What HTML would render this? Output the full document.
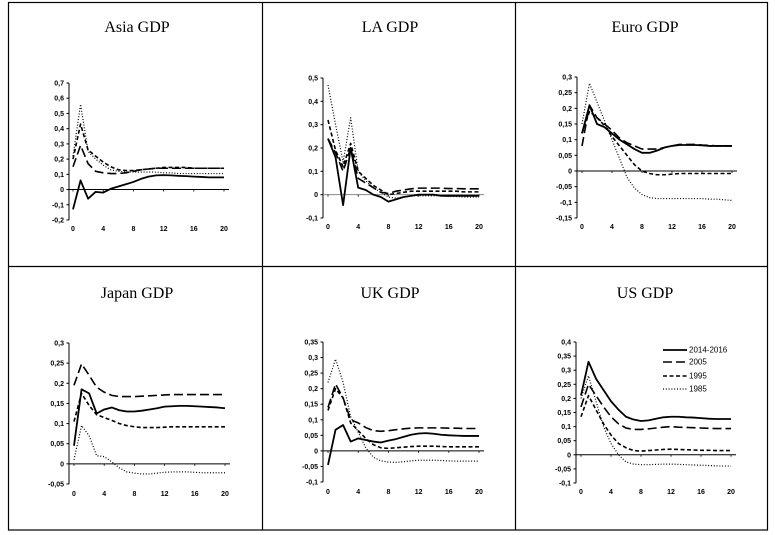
<!DOCTYPE html>
<html><head><meta charset="utf-8">
<style>
html,body{margin:0;padding:0;background:#fff;}
svg{display:block;}
.t{font-family:"Liberation Serif",serif;font-size:16px;fill:#000;}
.tk{font-family:"Liberation Sans",sans-serif;font-size:7px;font-weight:bold;fill:#000;}
.lg{font-family:"Liberation Sans",sans-serif;font-size:8px;fill:#000;}
</style></head>
<body>
<svg id="chart" width="775" height="535" viewBox="0 0 775 535"></svg>
<script>
const xs = [0,1,2,3,4,5,6,7,8,9,10,11,12,13,14,15,16,17,18,19,20];
const xTickLabels = [0,4,8,12,16,20];
const seriesNames = ["2014-2016","2005","1995","1985"];
const panelTitles = ["Asia GDP","LA GDP","Euro GDP","Japan GDP","UK GDP","US GDP"];
const asiaTicks = [-0.2,-0.1,0,0.1,0.2,0.3,0.4,0.5,0.6,0.7];
const laTicks = [-0.1,0,0.1,0.2,0.3,0.4,0.5];
const euroTicks = [-0.15,-0.1,-0.05,0,0.05,0.1,0.15,0.2,0.25,0.3];
const japanTicks = [-0.05,0,0.05,0.1,0.15,0.2,0.25,0.3];
const ukTicks = [-0.1,-0.05,0,0.05,0.1,0.15,0.2,0.25,0.3,0.35];
const usTicks = [-0.1,-0.05,0,0.05,0.1,0.15,0.2,0.25,0.3,0.35,0.4];

const asia2016 = [-0.13,0.06,-0.06,-0.015,-0.02,0.005,0.02,0.035,0.05,0.07,0.085,0.093,0.095,0.093,0.09,0.088,0.085,0.083,0.08,0.08,0.08];
const asia2005 = [0.15,0.29,0.17,0.12,0.11,0.105,0.105,0.11,0.12,0.13,0.135,0.14,0.14,0.14,0.14,0.14,0.14,0.14,0.14,0.14,0.14];
const asia1995 = [0.2,0.43,0.26,0.22,0.18,0.15,0.13,0.125,0.125,0.13,0.135,0.14,0.145,0.145,0.145,0.145,0.14,0.14,0.14,0.14,0.14];
const asia1985 = [0.22,0.56,0.25,0.2,0.16,0.13,0.12,0.115,0.115,0.115,0.115,0.115,0.11,0.11,0.105,0.105,0.105,0.105,0.105,0.105,0.105];

const la2016 = [0.24,0.16,-0.045,0.2,0.03,0.02,0.0,-0.01,-0.03,-0.02,-0.01,-0.005,0,0,0,-0.005,-0.005,-0.005,-0.005,-0.005,-0.005];
const la2005 = [0.24,0.18,0.1,0.2,0.07,0.05,0.03,0.01,0.005,0.015,0.02,0.025,0.028,0.028,0.028,0.028,0.026,0.026,0.025,0.025,0.025];
const la1995 = [0.32,0.19,0.12,0.22,0.1,0.07,0.04,0.02,0,0.005,0.01,0.015,0.015,0.015,0.015,0.015,0.015,0.015,0.012,0.012,0.012];
const la1985 = [0.47,0.3,0.14,0.33,0.1,0.06,0.03,0.01,-0.01,-0.015,-0.01,-0.005,-0.005,-0.005,-0.005,-0.005,-0.008,-0.008,-0.01,-0.01,-0.01];

const euro2016 = [0.12,0.21,0.15,0.14,0.12,0.1,0.085,0.07,0.058,0.058,0.065,0.075,0.08,0.083,0.083,0.083,0.082,0.08,0.08,0.08,0.08];
const euro2005 = [0.08,0.21,0.17,0.15,0.13,0.105,0.09,0.08,0.07,0.07,0.07,0.075,0.08,0.085,0.085,0.085,0.083,0.082,0.08,0.08,0.08];
const euro1995 = [0.12,0.19,0.17,0.145,0.11,0.08,0.05,0.02,0.0,-0.008,-0.012,-0.012,-0.01,-0.008,-0.008,-0.008,-0.008,-0.008,-0.008,-0.008,-0.008];
const euro1985 = [0.15,0.28,0.22,0.16,0.1,0.04,-0.02,-0.055,-0.075,-0.085,-0.088,-0.088,-0.088,-0.088,-0.088,-0.088,-0.088,-0.09,-0.09,-0.092,-0.094];

const japan2016 = [0.045,0.185,0.175,0.125,0.135,0.14,0.133,0.13,0.13,0.132,0.135,0.138,0.142,0.143,0.144,0.144,0.143,0.142,0.141,0.14,0.138];
const japan2005 = [0.195,0.248,0.22,0.19,0.178,0.17,0.167,0.167,0.167,0.168,0.169,0.17,0.171,0.172,0.172,0.172,0.172,0.172,0.172,0.172,0.172];
const japan1995 = [0.105,0.175,0.145,0.122,0.115,0.108,0.1,0.095,0.092,0.09,0.09,0.09,0.091,0.092,0.092,0.092,0.092,0.092,0.092,0.092,0.092];
const japan1985 = [0.01,0.095,0.07,0.02,0.018,0.005,-0.01,-0.02,-0.023,-0.025,-0.025,-0.023,-0.021,-0.02,-0.02,-0.02,-0.021,-0.022,-0.022,-0.022,-0.022];

const uk2016 = [-0.045,0.068,0.083,0.03,0.04,0.035,0.03,0.027,0.033,0.038,0.045,0.052,0.056,0.057,0.055,0.052,0.05,0.049,0.048,0.048,0.048];
const uk2005 = [0.14,0.215,0.17,0.1,0.09,0.075,0.065,0.063,0.065,0.068,0.071,0.073,0.074,0.074,0.074,0.074,0.073,0.073,0.072,0.072,0.072];
const uk1995 = [0.13,0.2,0.17,0.09,0.065,0.04,0.02,0.01,0.008,0.01,0.012,0.014,0.015,0.015,0.015,0.014,0.013,0.013,0.013,0.013,0.013];
const uk1985 = [0.22,0.295,0.22,0.11,0.06,0.01,-0.02,-0.032,-0.036,-0.037,-0.035,-0.032,-0.03,-0.03,-0.03,-0.031,-0.032,-0.033,-0.033,-0.033,-0.033];

const us2016 = [0.21,0.33,0.27,0.23,0.19,0.16,0.135,0.125,0.12,0.122,0.128,0.133,0.135,0.135,0.133,0.132,0.13,0.128,0.127,0.127,0.127];
const us2005 = [0.17,0.25,0.21,0.17,0.135,0.11,0.095,0.09,0.09,0.092,0.095,0.098,0.1,0.098,0.097,0.096,0.095,0.094,0.093,0.093,0.093];
const us1995 = [0.135,0.21,0.16,0.11,0.07,0.04,0.025,0.015,0.013,0.015,0.017,0.019,0.02,0.019,0.018,0.017,0.016,0.016,0.015,0.015,0.015];
const us1985 = [0.2,0.28,0.19,0.1,0.04,0.0,-0.025,-0.033,-0.035,-0.035,-0.034,-0.033,-0.033,-0.034,-0.035,-0.036,-0.037,-0.038,-0.039,-0.04,-0.04];

const NS = "http://www.w3.org/2000/svg";
const svg = document.getElementById("chart");
function mk(tag, attrs, parent){
  const e = document.createElementNS(NS, tag);
  for (const k in attrs) e.setAttribute(k, attrs[k]);
  (parent||svg).appendChild(e);
  return e;
}
const styles = [
  {w:1.8, dash:"none"},
  {w:1.6, dash:"9,4"},
  {w:1.6, dash:"4,2.5"},
  {w:1.2, dash:"1,1.8"}
];
// frame
const frame = mk("g", {});


mk("rect", {x:8.5,y:2.5,width:759,height:527.5,fill:"none",stroke:"#000","stroke-width":1.2}, frame);
mk("line", {x1:262.5,y1:2,x2:262.5,y2:530,stroke:"#000","stroke-width":1.2}, frame);
mk("line", {x1:515.5,y1:2,x2:515.5,y2:530,stroke:"#000","stroke-width":1.2}, frame);
mk("line", {x1:8,y1:266.5,x2:768,y2:266.5,stroke:"#000","stroke-width":1.2}, frame);

function fmt(v){ return (Math.round(v*100)/100).toString().replace(".", ","); }

function panel(cfg){
  const g = mk("g", {});
  
  
  const t = mk("text", {x:cfg.tx, y:cfg.ty, "text-anchor":"middle", class:"t"}, g);
  t.textContent = cfg.title;
  
  
  const ticks = cfg.ticks;
  const yMin = ticks[0], yMax = ticks[ticks.length-1];
  const Y = v => cfg.yTop + (yMax - v) / (yMax - yMin) * (cfg.yBot - cfg.yTop);
  const X = i => cfg.x0 + i * (cfg.x20 - cfg.x0) / 20;
  // y axis
  const ya = mk("line", {x1:cfg.ax, y1:Y(yMax), x2:cfg.ax, y2:Y(yMin), stroke:"#000", "stroke-width":1}, g);
  
  
  ticks.forEach(v => {
    mk("line", {x1:cfg.ax-2.5, y1:Y(v), x2:cfg.ax, y2:Y(v), stroke:"#000", "stroke-width":1}, g);
    const l = mk("text", {x:cfg.ax-5, y:Y(v)+2.5, "text-anchor":"end", class:"tk"}, g);
    l.textContent = fmt(v);
    
    
  });
  // zero line
  const z = mk("line", {x1:cfg.ax, y1:Y(0), x2:X(20)+5, y2:Y(0), stroke:cfg.zeroColor||"#000", "stroke-width":1}, g);
  
  
  xTickLabels.forEach(v => {
    mk("line", {x1:X(v), y1:Y(0), x2:X(v), y2:Y(0)+2, stroke:"#000", "stroke-width":0.8}, g);
    const l = mk("text", {x:X(v), y:cfg.ly, "text-anchor":"middle", class:"tk"}, g);
    l.textContent = v;
    
    
  });
  cfg.series.forEach((s, k) => {
    const d = xs.map((x, i) => (i ? "L" : "M") + X(x).toFixed(2) + "," + Y(s[i]).toFixed(2)).join(" ");
    const p = mk("path", {d:d, fill:"none", stroke:"#000", "stroke-width":styles[k].w, "stroke-dasharray":styles[k].dash, "stroke-linejoin":"round"}, g);
    
    
  });
}

panel({name:"asia-gdp-panel", title:panelTitles[0], tx:137, ty:32, ticks:asiaTicks, yTop:83, yBot:220, ax:69, x0:73, x20:224, ly:231, series:[asia2016,asia2005,asia1995,asia1985]});
panel({name:"la-gdp-panel", title:panelTitles[1], tx:390, ty:32, ticks:laTicks, yTop:78, yBot:218, ax:323, x0:328, x20:479, ly:229, zeroColor:"#888", series:[la2016,la2005,la1995,la1985]});
panel({name:"euro-gdp-panel", title:panelTitles[2], tx:645, ty:32, ticks:euroTicks, yTop:77, yBot:218, ax:577, x0:582, x20:732, ly:229, series:[euro2016,euro2005,euro1995,euro1985]});
panel({name:"japan-gdp-panel", title:panelTitles[3], tx:137, ty:298, ticks:japanTicks, yTop:343, yBot:484, ax:69, x0:74, x20:225, ly:496, series:[japan2016,japan2005,japan1995,japan1985]});
panel({name:"uk-gdp-panel", title:panelTitles[4], tx:390, ty:298, ticks:ukTicks, yTop:342, yBot:482, ax:323, x0:328, x20:479, ly:494, series:[uk2016,uk2005,uk1995,uk1985]});
panel({name:"us-gdp-panel", title:panelTitles[5], tx:645, ty:298, ticks:usTicks, yTop:342, yBot:483, ax:576, x0:581, x20:731, ly:494, series:[us2016,us2005,us1995,us1985]});

// legend
const lg = mk("g", {});


const legY = [350, 362, 376, 389];
seriesNames.forEach((n, k) => {
  const e = mk("g", {}, lg);
  
  
  mk("line", {x1:663, y1:legY[k], x2:687, y2:legY[k], stroke:"#000", "stroke-width":styles[k].w, "stroke-dasharray":styles[k].dash}, e);
  const t = mk("text", {x:689, y:legY[k]+2.5, class:"lg"}, e);
  t.textContent = n;
});
</script>
</body></html>
